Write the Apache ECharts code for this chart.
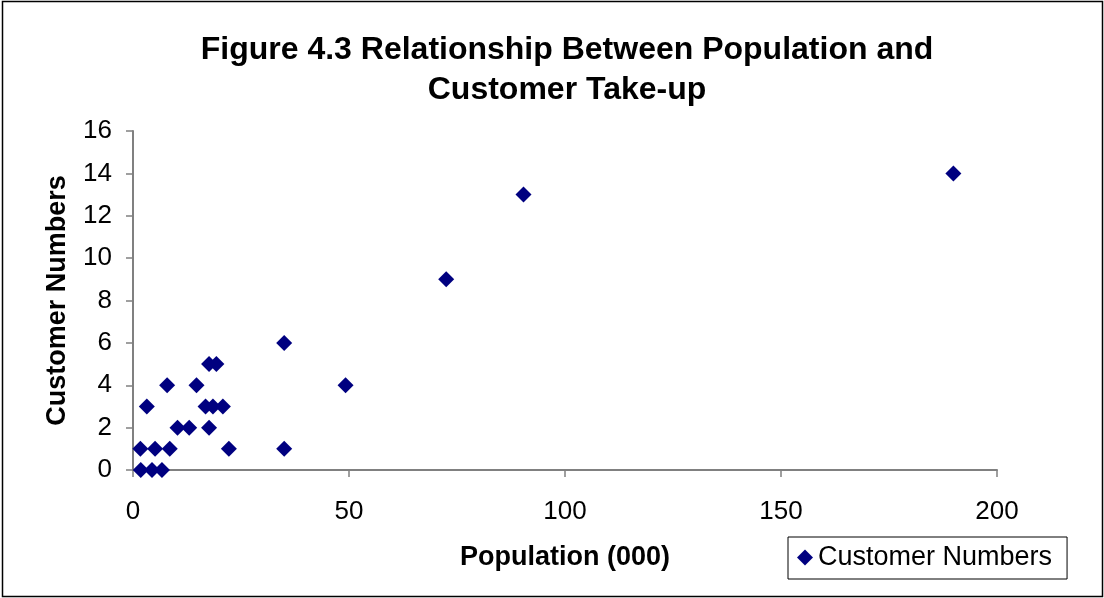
<!DOCTYPE html>
<html>
<head>
<meta charset="utf-8">
<script src="https://cdn.jsdelivr.net/npm/echarts@6/dist/echarts.min.js"></script>
<style>
  html, body { margin: 0; padding: 0; background: #fff; }
  #chart { width: 1104px; height: 598px; }
</style>
</head>
<body>
<div id="chart"></div>
<script>
// Population (thousands) of each area and the customers it produced
const population = [1.8, 4.4, 6.7, 1.7, 5.1, 8.5, 22.2, 35.0, 10.3, 13.0, 17.6, 3.2, 16.8, 18.5, 20.8, 7.9, 14.7, 49.2, 17.6, 19.3, 35.0, 72.5, 90.4, 189.9];
const customers  = [0,   0,   0,   1,   1,   1,   1,    1,    2,    2,    2,    3,   3,    3,    3,    4,   4,    4,    5,    5,    6,    9,    13,   14];
const seriesName = 'Customer Numbers';

const points = population.map((p, i) => [p, customers[i]]);
const font = '"Liberation Sans", Arial, sans-serif';

const chart = echarts.init(document.getElementById('chart'));
chart.setOption({
  animation: false,
  backgroundColor: '#fff',
  textStyle: { fontFamily: font },
  title: {
    text: 'Figure 4.3 Relationship Between Population and\nCustomer Take-up',
    left: 562, top: 25, textAlign: 'center',
    textStyle: { fontFamily: font, fontSize: 32, fontWeight: 'bold', color: '#000', lineHeight: 40 }
  },
  grid: { left: 133, right: 107, top: 131, bottom: 128, containLabel: false },
  xAxis: {
    type: 'value', min: 0, max: 200, interval: 50,
    name: 'Population (000)', nameLocation: 'middle', nameGap: 74,
    nameTextStyle: { fontFamily: font, fontSize: 27, fontWeight: 'bold', color: '#000' },
    axisLine: { lineStyle: { color: '#808080', width: 2 } },
    axisTick: { show: true, length: 7, inside: false, lineStyle: { color: '#808080', width: 1.5 } },
    axisLabel: { fontFamily: font, fontSize: 26, color: '#000', margin: 29 },
    splitLine: { show: false }
  },
  yAxis: {
    type: 'value', min: 0, max: 16, interval: 2,
    name: 'Customer Numbers', nameLocation: 'middle', nameGap: 62, nameRotate: 90,
    nameTextStyle: { fontFamily: font, fontSize: 27, fontWeight: 'bold', color: '#000' },
    axisLine: { show: true, lineStyle: { color: '#808080', width: 2 } },
    axisTick: { show: true, length: 7, lineStyle: { color: '#808080', width: 1.5 } },
    axisLabel: { fontFamily: font, fontSize: 26, color: '#000', margin: 21 },
    splitLine: { show: false }
  },
  legend: {
    data: [{ name: seriesName, icon: 'diamond' }],
    left: 788, top: 537,
    padding: [7, 15, 8, 9],
    itemWidth: 16, itemHeight: 16, itemGap: 0,
    borderColor: '#000', borderWidth: 1,
    textStyle: { fontFamily: font, fontSize: 27, color: '#000' }
  },
  series: [{
    name: seriesName,
    type: 'scatter',
    symbol: 'diamond',
    symbolSize: 16,
    data: points,
    itemStyle: { color: '#000080', opacity: 1 },
    emphasis: { disabled: true }
  }],
  graphic: [{
    type: 'rect',
    shape: { x: 2.5, y: 1.5, width: 1100, height: 595 },
    style: { fill: 'none', stroke: '#000', lineWidth: 1.5 },
    silent: true
  }]
});
</script>
</body>
</html>
